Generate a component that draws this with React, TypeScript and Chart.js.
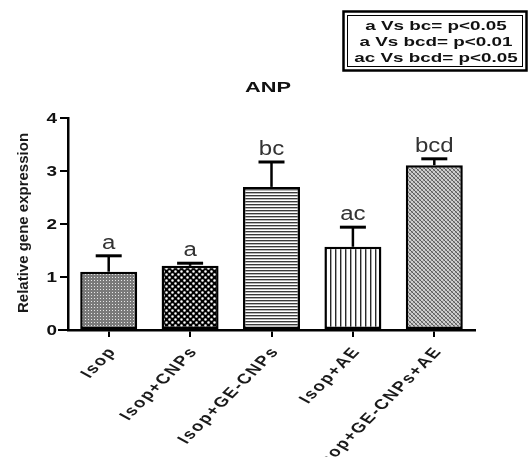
import React, { useEffect, useRef } from 'react';
import { Chart, registerables } from 'chart.js';

Chart.register(...registerables);

const categories = ['Isop', 'Isop+CNPs', 'Isop+GE-CNPs', 'Isop+AE', 'Isop+GE-CNPs+AE'];
const means = [1.1, 1.21, 2.7, 1.57, 3.11];
const upperErrors = [0.3, 0.05, 0.47, 0.37, 0.12];
const sigLetters = ['a', 'a', 'bc', 'ac', 'bcd'];
const yTickValues = [0, 1, 2, 3, 4];
const legendLines = ['a Vs bc= p<0.05', 'a Vs bcd= p<0.01', 'ac Vs bcd= p<0.05'];
const chartTitle = 'ANP';
const yAxisTitle = 'Relative gene expression';

const FONT = '"Liberation Sans", Arial, Helvetica, sans-serif';

type TextOpts = {
  font: string;
  align?: CanvasTextAlign;
  baseline?: CanvasTextBaseline;
  sx?: number;
  rot?: number;
  color?: string;
  spacing?: number;
};

function drawText(ctx: CanvasRenderingContext2D, text: string, x: number, y: number, o: TextOpts) {
  ctx.save();
  ctx.translate(x, y);
  ctx.scale(o.sx ?? 1, 1);
  if (o.rot) ctx.rotate(o.rot);
  ctx.font = o.font;
  ctx.fillStyle = o.color ?? '#111';
  ctx.textBaseline = o.baseline ?? 'alphabetic';
  const sp = o.spacing ?? 0;
  if (!sp) {
    ctx.textAlign = o.align ?? 'left';
    ctx.fillText(text, 0, 0);
  } else {
    const chars = text.split('');
    const widths = chars.map((c) => ctx.measureText(c).width);
    const total = widths.reduce((a, b) => a + b, 0) + sp * (chars.length - 1);
    let start = 0;
    const al = o.align ?? 'left';
    if (al === 'right' || al === 'end') start = -total;
    else if (al === 'center') start = -total / 2;
    ctx.textAlign = 'left';
    let cx = start;
    chars.forEach((c, i) => {
      ctx.fillText(c, cx, 0);
      cx += widths[i] + sp;
    });
  }
  ctx.restore();
}

function tile(w: number, h: number, draw: (g: CanvasRenderingContext2D) => void) {
  const c = document.createElement('canvas');
  c.width = w;
  c.height = h;
  const g = c.getContext('2d')!;
  draw(g);
  return c;
}

function buildPatterns(ctx: CanvasRenderingContext2D): (CanvasPattern | string)[] {
  const t1 = tile(3, 3, (g) => {
    g.fillStyle = '#7a7a7a';
    g.fillRect(0, 0, 3, 3);
    g.fillStyle = '#e6e6e6';
    g.fillRect(1, 1, 1, 1);
  });
  const t2 = tile(6, 6, (g) => {
    g.fillStyle = '#000';
    g.fillRect(0, 0, 6, 6);
    g.fillStyle = '#fff';
    g.beginPath();
    g.arc(1.5, 1.5, 1.3, 0, Math.PI * 2);
    g.arc(4.5, 4.5, 1.3, 0, Math.PI * 2);
    g.fill();
  });
  const t3 = tile(4, 3, (g) => {
    g.fillStyle = '#fff';
    g.fillRect(0, 0, 4, 3);
    g.fillStyle = '#3a3a3a';
    g.fillRect(0, 0, 4, 1);
    g.fillStyle = '#b5b5b5';
    g.fillRect(0, 1, 4, 1);
  });
  const t4 = tile(5, 4, (g) => {
    g.fillStyle = '#fff';
    g.fillRect(0, 0, 5, 4);
    g.fillStyle = '#2a2a2a';
    g.fillRect(0, 0, 1, 4);
    g.fillStyle = '#a8a8a8';
    g.fillRect(1, 0, 1, 4);
  });
  const t5 = tile(4, 4, (g) => {
    g.fillStyle = '#cfcfcf';
    g.fillRect(0, 0, 4, 4);
    g.fillStyle = '#5a5a5a';
    for (let i = 0; i < 4; i++) g.fillRect(i, i, 1, 1);
    g.fillStyle = '#929292';
    for (let i = 0; i < 4; i++) g.fillRect(3 - i, i, 1, 1);
  });
  return [t1, t2, t3, t4, t5].map((t) => ctx.createPattern(t, 'repeat') || '#999');
}

const LABEL_SX = 1.35;

const annotPlugin = {
  id: 'annot',
  afterDraw(chart: any) {
    const ctx: CanvasRenderingContext2D = chart.ctx;
    const { left, bottom } = chart.chartArea;
    const yS = chart.scales.y;
    const xS = chart.scales.x;

    // x-axis extension to the left of the y axis
    ctx.save();
    ctx.strokeStyle = '#000';
    ctx.lineWidth = 2;
    ctx.beginPath();
    ctx.moveTo(left - 10, bottom);
    ctx.lineTo(left, bottom);
    ctx.stroke();
    ctx.restore();

    // error bars and significance letters
    const meta = chart.getDatasetMeta(0);
    meta.data.forEach((bar: any, i: number) => {
      const cx = bar.x;
      const yb = yS.getPixelForValue(means[i]);
      const yt = yS.getPixelForValue(means[i] + upperErrors[i]);
      ctx.save();
      ctx.strokeStyle = '#000';
      ctx.lineWidth = 2.5;
      ctx.beginPath();
      ctx.moveTo(cx, yb);
      ctx.lineTo(cx, yt);
      ctx.stroke();
      ctx.lineWidth = 3;
      ctx.beginPath();
      ctx.moveTo(cx - 13, yt);
      ctx.lineTo(cx + 13, yt);
      ctx.stroke();
      ctx.restore();
      drawText(ctx, sigLetters[i], cx, yt - 7, {
        font: `20px ${FONT}`,
        align: 'center',
        sx: 1.2,
        color: '#333',
      });
    });

    // y tick labels
    yTickValues.forEach((v) => {
      drawText(ctx, String(v), left - 11, yS.getPixelForValue(v) + 1, {
        font: `bold 14px ${FONT}`,
        align: 'right',
        baseline: 'middle',
        sx: 1.35,
      });
    });

    // x tick labels (rotated, horizontally stretched like the source)
    const theta = Math.atan(LABEL_SX);
    categories.forEach((c, i) => {
      const px = xS.getPixelForValue(i);
      drawText(ctx, c, px + 3, bottom + 20, {
        font: `bold 14px ${FONT}`,
        align: 'right',
        baseline: 'middle',
        sx: LABEL_SX,
        rot: -theta,
        spacing: 1.4,
        color: '#1a1a1a',
      });
    });

    // y axis title
    drawText(ctx, yAxisTitle, 24, 223, {
      font: `bold 15px ${FONT}`,
      align: 'center',
      baseline: 'middle',
      rot: -Math.PI / 2,
      color: '#1a1a1a',
    });

    // chart title
    drawText(ctx, chartTitle, 268, 92, {
      font: `bold 15px ${FONT}`,
      align: 'center',
      sx: 1.45,
    });

    // significance box
    ctx.save();
    ctx.strokeStyle = '#000';
    ctx.lineWidth = 2.5;
    ctx.strokeRect(343.5, 11.5, 183, 59);
    ctx.lineWidth = 1;
    ctx.strokeRect(347.5, 15.5, 175, 51);
    ctx.restore();
    legendLines.forEach((t, i) => {
      drawText(ctx, t, 436, 30 + i * 16, {
        font: `bold 13px ${FONT}`,
        align: 'center',
        sx: 1.45,
      });
    });
  },
};

export default function App() {
  const ref = useRef<HTMLCanvasElement | null>(null);
  useEffect(() => {
    const canvas = ref.current!;
    const ctx = canvas.getContext('2d')!;
    const patterns = buildPatterns(ctx);
    const chart = new Chart(canvas, {
      type: 'bar',
      data: {
        labels: categories,
        datasets: [
          {
            data: means,
            backgroundColor: patterns as any,
            borderColor: '#000',
            borderWidth: 2.5,
            borderSkipped: false,
            barPercentage: 0.7,
            categoryPercentage: 1,
          },
        ],
      },
      options: {
        responsive: false,
        animation: false,
        events: [],
        layout: { padding: { left: 60, right: 54, top: 118, bottom: 119 } },
        plugins: {
          legend: { display: false },
          tooltip: { enabled: false },
          title: { display: false },
        },
        scales: {
          x: {
            type: 'category',
            offset: true,
            afterFit: (s: any) => {
              s.height = 8;
            },
            grid: {
              display: true,
              drawOnChartArea: false,
              drawTicks: true,
              tickLength: 7,
              offset: false,
              color: '#000',
              lineWidth: 2,
            },
            border: { display: true, color: '#000', width: 2.5 },
            ticks: { display: false },
          },
          y: {
            min: 0,
            max: 4,
            afterFit: (s: any) => {
              s.width = 8;
            },
            ticks: { display: false, stepSize: 1 },
            grid: {
              display: true,
              drawOnChartArea: false,
              drawTicks: true,
              tickLength: 8,
              color: '#000',
              lineWidth: 2,
            },
            border: { display: true, color: '#000', width: 2.5 },
          },
        },
      },
      plugins: [annotPlugin],
    });
    return () => chart.destroy();
  }, []);
  return (
    <div style={{ position: 'fixed', left: 0, top: 0, width: 529, height: 457, background: '#fff' }}>
      <canvas ref={ref} width={529} height={457} style={{ display: 'block' }} />
    </div>
  );
}
